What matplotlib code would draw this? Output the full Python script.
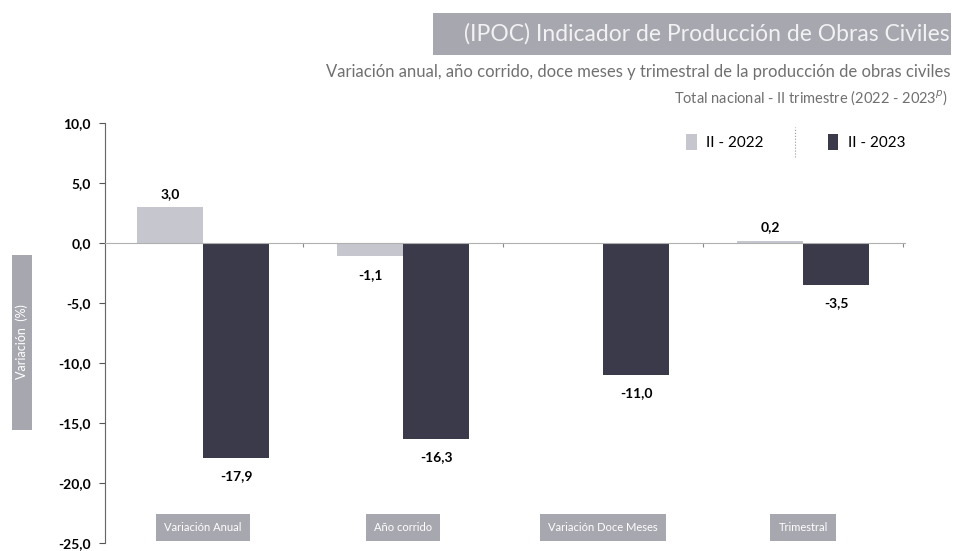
import numpy as np
import matplotlib.pyplot as plt
from matplotlib.patches import Rectangle, Patch
from matplotlib.lines import Line2D
from matplotlib.ticker import FuncFormatter

# IPOC variation data, II quarter
categories = ['Variación Anual', 'Año corrido', 'Variación Doce Meses', 'Trimestral']
vals_2022 = [3.0, -1.1, None, 0.2]
vals_2023 = [-17.9, -16.3, -11.0, -3.5]
series_names = ['II - 2022', 'II - 2023']

light = '#c6c6ce'
dark = '#3b3a4a'
box_gray = '#a7a7b0'

plt.rcParams['font.family'] = ['Lato', 'DejaVu Sans']
plt.rcParams['mathtext.fontset'] = 'custom'
plt.rcParams['mathtext.rm'] = 'Lato'

fig = plt.figure(figsize=(9.54, 5.51), dpi=100)
ax = fig.add_axes([0.110, 0.0145, 0.839, 0.7625])

x = np.arange(len(categories))
w = 0.33

def comma(v, pos=None):
    return ('%.1f' % v).replace('.', ',')

def label_bar(xpos, v):
    if v >= 0:
        ax.annotate(comma(v), (xpos, v), xytext=(0, 5), textcoords='offset points',
                    ha='center', va='bottom', fontsize=10, fontweight='bold')
    else:
        ax.annotate(comma(v), (xpos, v), xytext=(0, -9), textcoords='offset points',
                    ha='center', va='top', fontsize=10, fontweight='bold')

for i in range(len(categories)):
    if vals_2022[i] is not None:
        ax.bar(x[i] - w / 2, vals_2022[i], w, color=light)
        label_bar(x[i] - w / 2, vals_2022[i])
    ax.bar(x[i] + w / 2, vals_2023[i], w, color=dark)
    label_bar(x[i] + w / 2, vals_2023[i])

ax.set_xlim(-0.49, 3.51)
ax.set_ylim(-25, 10)
ax.set_yticks(np.arange(-25, 10.1, 5))
ax.yaxis.set_major_formatter(FuncFormatter(comma))
ax.tick_params(axis='y', length=4, color='#555555', labelsize=10, pad=6)
for t in ax.get_yticklabels():
    t.set_fontweight('bold')

# zero baseline carries the x spine with small separators between groups
ax.spines['bottom'].set_position(('data', 0))
ax.spines['bottom'].set_color('#b0b0b0')
ax.set_xticks(x + 0.5)
ax.set_xticklabels([])
ax.tick_params(axis='x', length=3, color='#888888', direction='out')
ax.spines['left'].set_color('#666666')
ax.spines['left'].set_linestyle((0, (1, 0.6)))
ax.spines['right'].set_visible(False)
ax.spines['top'].set_visible(False)

# category names as grey tags near the bottom
for i, c in enumerate(categories):
    ax.text(x[i], -23.7, c, ha='center', va='center', color='white', fontsize=8,
            bbox=dict(boxstyle='square,pad=0.75', fc=box_gray, ec='none'))

# legend
handles = [Patch(fc=light, ec='none'), Patch(fc=dark, ec='none')]
fig.legend(handles, series_names, loc='center', bbox_to_anchor=(0.834, 0.742),
           ncol=2, frameon=False, fontsize=11, handlelength=0.7, handleheight=1.2,
           handletextpad=0.6, columnspacing=4.2)
fig.add_artist(Line2D([0.833, 0.833], [0.715, 0.77], transform=fig.transFigure,
                      color='#999999', lw=0.8, ls=':'))

# y label tag
fig.add_artist(Rectangle((0.0126, 0.22), 0.021, 0.317, transform=fig.transFigure,
                         fc=box_gray, ec='none'))
fig.text(0.023, 0.38, 'Variación  (%)', rotation=90, ha='center', va='center',
         color='white', fontsize=9)

# title block
fig.add_artist(Rectangle((0.454, 0.901), 0.543, 0.076, transform=fig.transFigure,
                         fc=box_gray, ec='none'))
fig.text(0.995, 0.939, '(IPOC) Indicador de Producción de Obras Civiles', ha='right',
         va='center', color='#f2f2f4', fontsize=16.5)
fig.text(0.996, 0.869, 'Variación anual, año corrido, doce meses y trimestral de la producción de obras civiles',
         ha='right', va='center', color='#707070', fontsize=12)
fig.text(0.993, 0.823, 'Total nacional - II trimestre (2022 - 2023$^{p}$)', ha='right',
         va='center', color='#707070', fontsize=10.5)

fig.savefig('out.png', dpi=100)
